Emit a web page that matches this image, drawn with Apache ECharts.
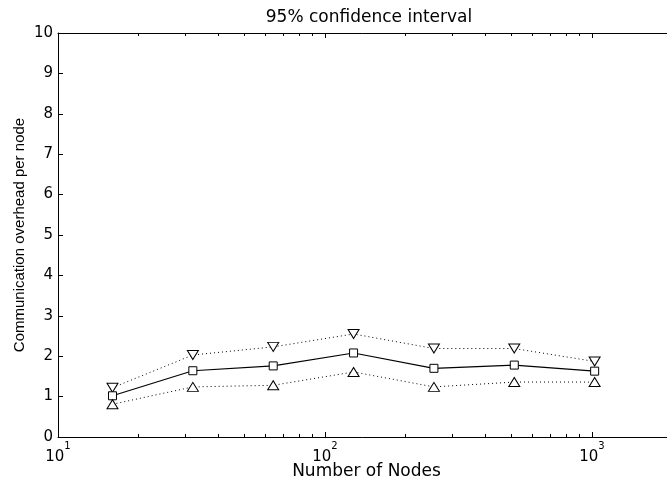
<!DOCTYPE html>
<html><head><meta charset="utf-8">
<script src="https://cdn.jsdelivr.net/npm/echarts@6/dist/echarts.min.js"></script>
<style>html,body{margin:0;padding:0;background:#fff}#c{width:667px;height:483px}</style>
</head><body><div id="c"></div>
<script>
const nodes = [16, 32, 64, 128, 256, 512, 1024];
const meanVals = [1.02, 1.64, 1.76, 2.08, 1.70, 1.78, 1.63];
const upperVals = [1.22, 2.03, 2.23, 2.55, 2.19, 2.19, 1.87];
const lowerVals = [0.81, 1.24, 1.28, 1.61, 1.24, 1.36, 1.36];
const majorX = [10, 100, 1000];
const minorX = [20, 30, 40, 50, 60, 70, 80, 90, 200, 300, 400, 500, 600, 700, 800, 900, 2000];
const xMin = 10, xMax = 2048;
const titleText = '95% confidence interval';
const xName = 'Number of Nodes';
const yName = 'Communication overhead per node';

const WIDE = "'DejaVu Sans', 'Liberation Sans', Arial, sans-serif";
const FONT = "'Liberation Sans', Arial, Helvetica, sans-serif";
const pair = vals => nodes.map((n, i) => [n, vals[i]]);

function xAxisDef(pos, ticks, len, showLine, showLabel) {
  return {
    type: 'log', logBase: 10, min: xMin, max: xMax, position: pos,
    axisLine: { show: showLine, onZero: false, lineStyle: { color: '#000', width: 1 } },
    axisTick: { show: true, inside: true, interval: 0, length: len, customValues: ticks, lineStyle: { color: '#000', width: 1 } },
    axisLabel: {
      show: showLabel, interval: 0, customValues: majorX, margin: 4, hideOverlap: false,
      formatter: v => '{b|10}{s|' + Math.round(Math.log10(v)) + '}',
      rich: {
        b: { fontSize: 15, fontFamily: WIDE, color: '#000', lineHeight: 24, verticalAlign: 'bottom' },
        s: { fontSize: 10, fontFamily: WIDE, color: '#000', lineHeight: 24, verticalAlign: 'top' }
      }
    },
    splitLine: { show: false }, minorTick: { show: false }
  };
}

const chart = echarts.init(document.getElementById('c'), null, { renderer: 'canvas' });
chart.setOption({
  animation: false,
  backgroundColor: '#fff',
  title: {
    text: titleText, left: 364, top: 4, textAlign: 'center',
    textStyle: { fontSize: 17, fontWeight: 'normal', color: '#000', fontFamily: WIDE }
  },
  grid: { left: 58, top: 33, width: 617, bottom: 46, containLabel: false, outerBoundsMode: 'none' },
  xAxis: [
    Object.assign(xAxisDef('bottom', majorX, 5, true, true), {
      name: xName, nameLocation: 'middle', nameGap: 26, nameMoveOverlap: false,
      nameTextStyle: { fontSize: 17, color: '#000', fontFamily: WIDE, verticalAlign: 'top' }
    }),
    xAxisDef('bottom', minorX, 3, false, false),
    xAxisDef('top', majorX, 5, true, false),
    xAxisDef('top', minorX, 3, false, false)
  ],
  yAxis: {
    type: 'value', min: 0, max: 10, interval: 1,
    name: yName, nameLocation: 'middle', nameGap: 31, nameMoveOverlap: false,
    nameTextStyle: { fontSize: 15, color: '#000', fontFamily: FONT },
    axisLine: { show: true, lineStyle: { color: '#000', width: 1 } },
    axisTick: { show: true, inside: true, length: 5, lineStyle: { color: '#000' } },
    axisLabel: { fontSize: 15, color: '#000', fontFamily: WIDE, margin: 5 },
    splitLine: { show: false }
  },
  series: [
    {
      name: 'upper', type: 'line', data: pair(upperVals), xAxisIndex: 0,
      symbol: 'triangle', symbolRotate: 180, symbolSize: [11, 9],
      lineStyle: { color: '#000', width: 1, type: [1, 3] },
      itemStyle: { color: '#fff', borderColor: '#000', borderWidth: 1 }
    },
    {
      name: 'mean', type: 'line', data: pair(meanVals), xAxisIndex: 0,
      symbol: 'rect', symbolSize: 8,
      lineStyle: { color: '#000', width: 1.2 },
      itemStyle: { color: '#fff', borderColor: '#000', borderWidth: 1 }
    },
    {
      name: 'lower', type: 'line', data: pair(lowerVals), xAxisIndex: 0,
      symbol: 'triangle', symbolSize: [11, 9],
      lineStyle: { color: '#000', width: 1, type: [1, 3] },
      itemStyle: { color: '#fff', borderColor: '#000', borderWidth: 1 }
    }
  ]
});
</script>
</body></html>
